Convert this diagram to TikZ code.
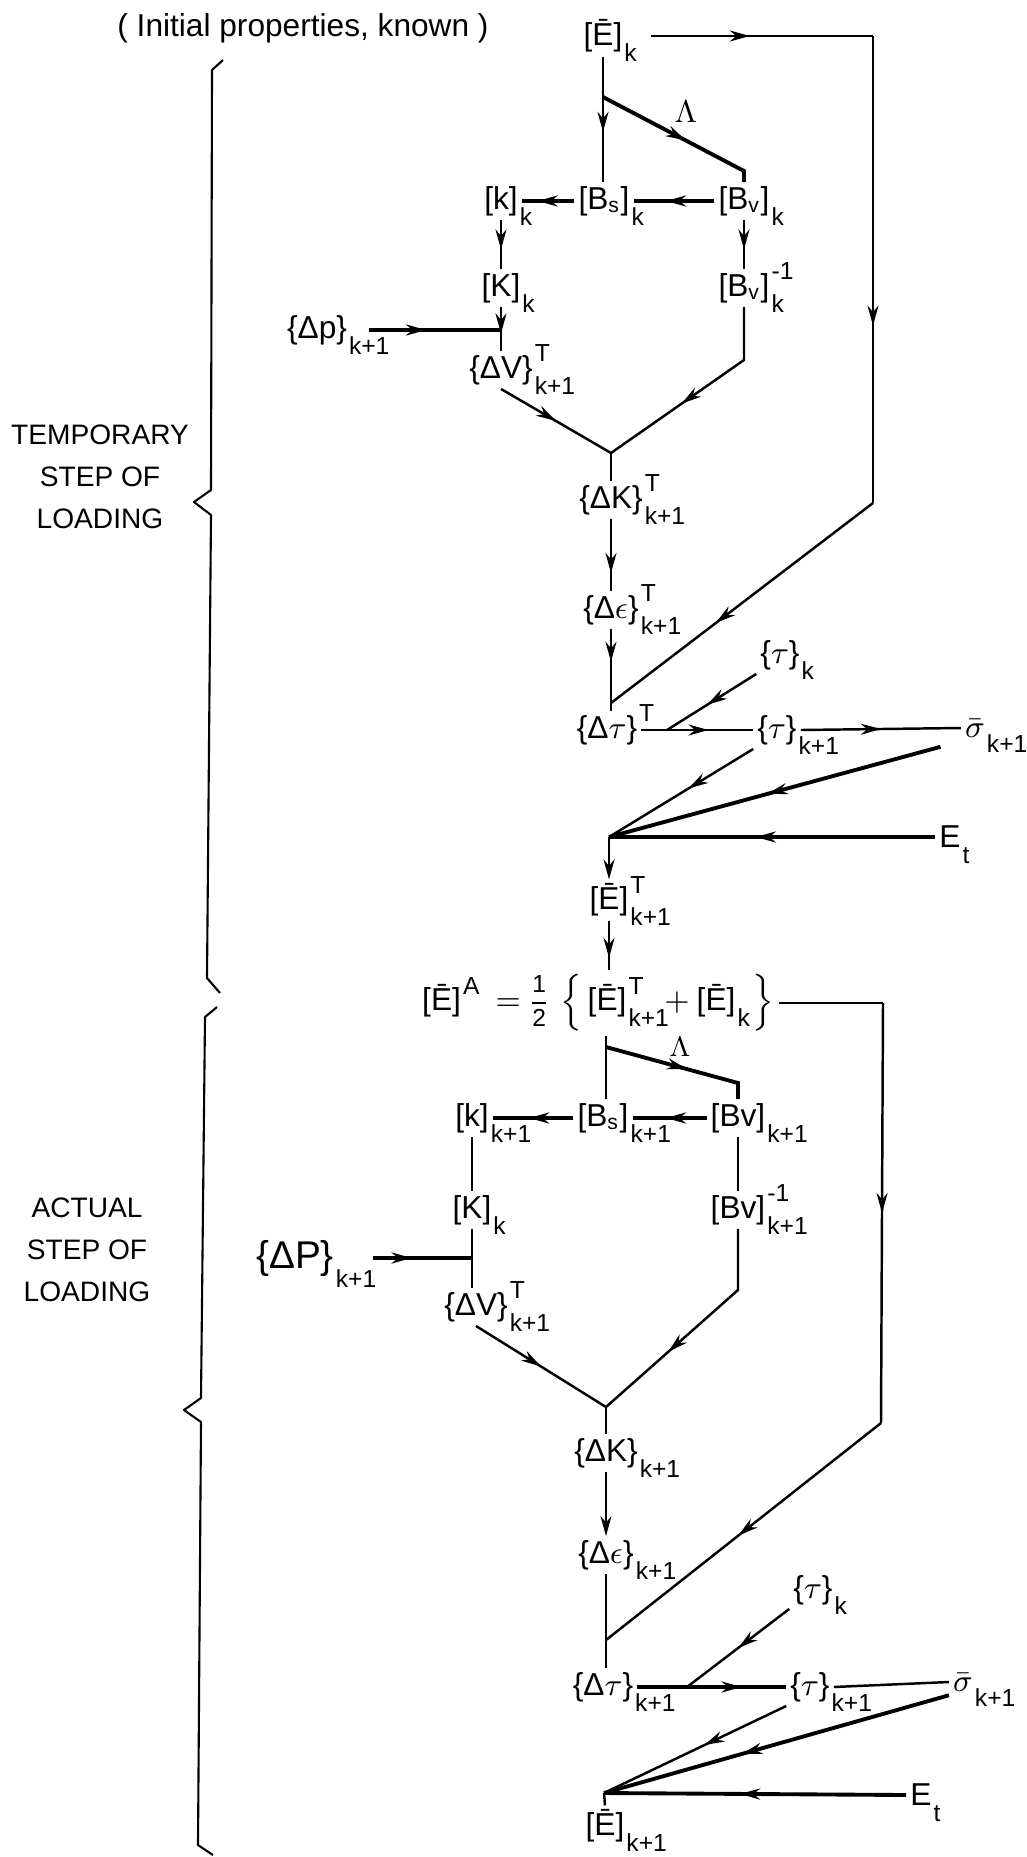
\documentclass[tikz,border=0pt]{standalone}
\usepackage{amsmath}
\usepackage{fontspec}
\setmainfont{Liberation Sans}
\usetikzlibrary{arrows.meta,decorations.markings}

\newcommand{\sbf}{\fontsize{7}{8}\selectfont}
% body with its super- and subscript hanging to the right
\newcommand{\lab}[3]{#1\rlap{\kern0.6pt\smash{\raisebox{0.53em}{\sbf #2}}}\rlap{\kern0.6pt\smash{\raisebox{-0.5em}{\sbf #3}}}}

\tikzset{
  lbl/.style={inner sep=1pt, font=\fontsize{9}{10}\selectfont},
  side/.style={align=center, font=\fontsize{8}{12}\selectfont},
  flow/.style={line width=0.7pt},
  heavy/.style={line width=1.1pt},
  midarrow/.style={postaction={decorate, decoration={markings,
      mark=at position #1 with {\arrow{Stealth[length=2mm,width=1.1mm]}}}}},
  midarrow/.default=0.5,
  endarrow/.style={-{Stealth[length=2mm,width=1.1mm]}},
  bracket/.style={line width=0.6pt, line join=round},
}

\begin{document}
\begin{tikzpicture}[x=0.01cm, y=-0.01cm]
  \useasboundingbox (0,0) rectangle (1026,1857);

  % ---- temporary step of loading ----
  \node[lbl] (init) at (303,28)  {( Initial properties, known )};
  \node[lbl] (Ek)   at (603,36)  {\lab{[Ē]}{}{k}};
  \node[lbl] (lam1) at (686,112) {$\Lambda$};
  \node[lbl] (kk1)  at (501,201) {\lab{[k]}{}{k}};
  \node[lbl] (Bs1)  at (604,201) {\lab{[B\textsubscript{s}]}{}{k}};
  \node[lbl] (Bv1)  at (744,201) {\lab{[B\textsubscript{v}]}{}{k}};
  \node[lbl] (KK1)  at (501,288) {\lab{[K]}{}{k}};
  \node[lbl] (Bvi1) at (744,288) {\lab{[B\textsubscript{v}]}{-1}{k}};
  \node[lbl] (dp1)  at (317,330) {\lab{\{Δp\}}{}{k+1}};
  \node[lbl] (dV1)  at (501,370) {\lab{\{ΔV\}}{T}{k+1}};
  \node[lbl] (dK1)  at (611,500) {\lab{\{ΔK\}}{T}{k+1}};
  \node[lbl] (de1)  at (611,610) {\lab{\{Δ$\epsilon$\}}{T}{k+1}};
  \node[lbl] (dt1)  at (607,730) {\lab{\{Δ$\tau$\}}{T}{}};
  \node[lbl] (tk1)  at (780,655) {\lab{\{$\tau$\}}{}{k}};
  \node[lbl] (tk11) at (777,730) {\lab{\{$\tau$\}}{}{k+1}};
  \node[lbl] (sg1)  at (975,728) {\lab{$\bar{\sigma}$}{}{k+1}};
  \node[lbl] (Et1)  at (950,837) {\lab{E}{}{t}};
  \node[lbl] (ET)   at (609,900) {\lab{[Ē]}{T}{k+1}};
  \node[side] (temp) at (100,477) {TEMPORARY\\STEP OF\\LOADING};

  \coordinate (r1a) at (873,36);
  \coordinate (r1b) at (873,503);
  \coordinate (m1)  at (611,703);
  \coordinate (b1)  at (603,97);
  \coordinate (b1r) at (744,171);
  \coordinate (p1)  at (501,330);
  \coordinate (v1)  at (744,360);
  \coordinate (J1)  at (611,453);
  \coordinate (t1)  at (667,730);
  \coordinate (C1)  at (609,837);

  \draw[flow, midarrow=0.5, shorten <=7pt] (Ek.east) -- (r1a);
  \draw[flow, midarrow=0.62] (r1a) -- (r1b);
  \draw[flow, midarrow=0.6] (r1b) -- (m1);
  \draw[flow, midarrow=0.6] (Ek.south -| b1) -- (b1 |- Bs1.north);
  \draw[heavy, midarrow=0.55] (b1) -- (b1r) -- (b1r |- Bv1.north);
  \draw[heavy, midarrow=0.6] (Bv1.west) -- (Bs1.east);
  \draw[heavy, midarrow=0.7] (Bs1.west) -- (kk1.east);
  \draw[flow, midarrow=0.6] (kk1.south) -- (KK1.north);
  \draw[flow, midarrow=0.6] (Bv1.south) -- (Bvi1.north);
  \draw[flow, midarrow=0.6] (KK1.south) -- (dV1.north);
  \draw[heavy, midarrow=0.5, shorten <=5pt] (dp1.east) -- (p1);
  \draw[flow, midarrow=0.5] (dV1.south) -- (J1);
  \draw[flow, midarrow=0.6] (Bvi1.south) -- (v1) -- (J1);
  \draw[flow] (J1) -- (dK1.north);
  \draw[flow, midarrow=0.75] (dK1.south) -- (de1.north);
  \draw[flow, midarrow=0.4] (de1.south) -- (de1.south |- dt1.north);
  \draw[flow, midarrow=0.55] (tk1.south west) -- (t1);
  \draw[flow, midarrow=0.6] (dt1.east) -- (tk11.west);
  \draw[flow, midarrow=0.5] (tk11.east) -- (sg1.west);
  \draw[flow, midarrow=0.45] (tk11.south west) -- (C1);
  \draw[heavy, midarrow=0.55, shorten <=6pt] (sg1.south west) -- (C1);
  \draw[heavy, midarrow=0.55] (Et1.west) -- (C1);
  \draw[flow, endarrow] (C1) -- (ET.north);

  % ---- actual step of loading ----
  \node[lbl, anchor=west] (EA) at (418,1003)
    {\lab{[Ē]}{A}{}\hspace{1.1em}$=$\hspace{2pt}$\frac{\raisebox{1.5pt}{\sbf 1}}{\raisebox{-1.5pt}{\sbf 2}}$\hspace{3pt}$\Bigl\{$\hspace{1.5pt}\lab{[Ē]}{T}{k+1}\hspace{1.2em}$+$\hspace{2pt}\lab{[Ē]}{}{k}\hspace{0.55em}$\Bigr\}$};
  \node[lbl, font=\fontsize{8}{9}\selectfont] (lam2) at (680,1047) {$\Lambda$};
  \node[lbl] (kk2)  at (472,1118) {\lab{[k]}{}{k+1}};
  \node[lbl] (Bs2)  at (603,1118) {\lab{[B\textsubscript{s}]}{}{k+1}};
  \node[lbl] (Bv2)  at (738,1118) {\lab{[Bv]}{}{k+1}};
  \node[lbl] (KK2)  at (472,1210) {\lab{[K]}{}{k}};
  \node[lbl] (Bvi2) at (738,1210) {\lab{[Bv]}{-1}{k+1}};
  \node[lbl, font=\fontsize{11}{12}\selectfont] (dP2) at (295,1258) {\lab{\{ΔP\}}{}{k+1}};
  \node[lbl] (dV2)  at (476,1307) {\lab{\{ΔV\}}{T}{k+1}};
  \node[lbl] (dK2)  at (606,1453) {\lab{\{ΔK\}}{}{k+1}};
  \node[lbl] (de2)  at (606,1555) {\lab{\{Δ$\epsilon$\}}{}{k+1}};
  \node[lbl] (dt2)  at (603,1687) {\lab{\{Δ$\tau$\}}{}{k+1}};
  \node[lbl] (tk2)  at (813,1590) {\lab{\{$\tau$\}}{}{k}};
  \node[lbl] (tk12) at (810,1687) {\lab{\{$\tau$\}}{}{k+1}};
  \node[lbl] (sg2)  at (963,1682) {\lab{$\bar{\sigma}$}{}{k+1}};
  \node[lbl] (Et2)  at (921,1795) {\lab{E}{}{t}};
  \node[lbl] (Ek1)  at (605,1826) {\lab{[Ē]}{}{k+1}};
  \node[side] (act) at (87,1250) {ACTUAL\\STEP OF\\LOADING};

  \coordinate (r2a) at (883,1003);
  \coordinate (r2b) at (881,1423);
  \coordinate (m2)  at (606,1640);
  \coordinate (b2)  at (606,1047);
  \coordinate (b2r) at (738,1083);
  \coordinate (p2)  at (472,1258);
  \coordinate (v2)  at (738,1290);
  \coordinate (J2)  at (606,1407);
  \coordinate (t2)  at (687,1687);
  \coordinate (C2)  at (604,1793);

  \draw[flow, midarrow=0.75] (ET.south) -- (ET.south |- EA.north);
  \draw[flow] (EA.east) -- (r2a);
  \draw[flow, midarrow=0.5] (r2a) -- (r2b);
  \draw[flow, midarrow=0.52] (r2b) -- (m2);
  \draw[flow] (EA.south -| b2) -- (b2 |- Bs2.north);
  \draw[heavy, midarrow=0.55] (b2) -- (b2r) -- (b2r |- Bv2.north);
  \draw[heavy, midarrow=0.55] (Bv2.west) -- (Bs2.east);
  \draw[heavy, midarrow=0.55] (Bs2.west) -- (kk2.east);
  \draw[flow] (kk2.south) -- (KK2.north);
  \draw[flow] (Bv2.south) -- (Bvi2.north);
  \draw[flow] (KK2.south) -- (KK2.south |- dV2.north);
  \draw[heavy, midarrow=0.55, shorten <=10pt] (dP2.east) -- (p2);
  \draw[flow, midarrow=0.5] (dV2.south) -- (J2);
  \draw[flow, midarrow=0.65] (Bvi2.south) -- (v2) -- (J2);
  \draw[flow] (J2) -- (dK2.north);
  \draw[flow, endarrow] (dK2.south) -- (de2.north);
  \draw[flow] (de2.south) -- (de2.south |- dt2.north);
  \draw[flow, midarrow=0.5] (tk2.south west) -- (t2);
  \draw[heavy, midarrow=0.7] (dt2.east) -- (tk12.west);
  \draw[flow] (tk12.east) -- (sg2.west);
  \draw[flow, midarrow=0.45] (tk12.south west) -- (C2);
  \draw[heavy, midarrow=0.6] (sg2.south west) -- (C2);
  \draw[heavy, midarrow=0.55] (Et2.west) -- (C2);
  \draw[flow] (C2) -- (Ek1.north);

  % braces
  \draw[bracket] (223,60) -- (212,70) -- (211,490) -- (194,502) -- (211,515) -- (207,978) -- (220,993);
  \draw[bracket] (217,1007) -- (205,1017) -- (201,1398) -- (184,1410) -- (201,1422) -- (198,1845) -- (213,1855);
\end{tikzpicture}
\end{document}
